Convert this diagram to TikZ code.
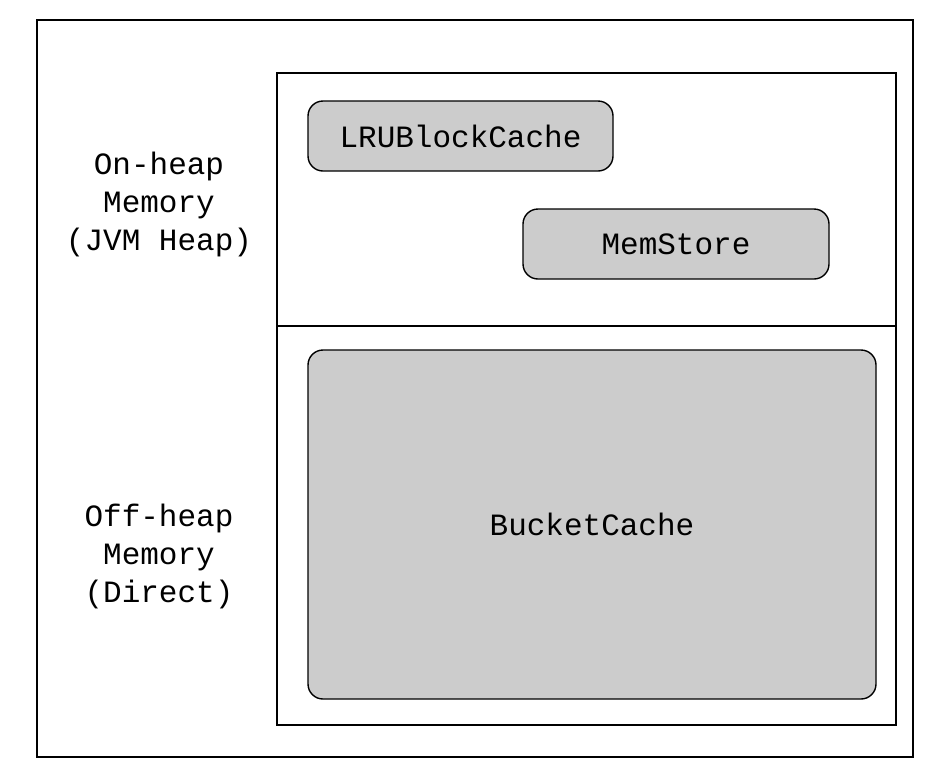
\documentclass[tikz,border=0pt]{standalone}
\usepackage{fontspec}
\setmonofont{Liberation Mono}
\usepackage{tikz}

\begin{document}
\begin{tikzpicture}[
                    x=1pt,
                    y=-1pt,
                    line width=1.4pt,
                    font=\ttfamily\fontsize{31}{38}\selectfont,
                    frame/.style={draw, rectangle, inner sep=0pt},
                    cachebox/.style={draw, rectangle, rounded corners=15pt, fill=black!20, inner sep=0pt},
                    memlabel/.style={align=center}
                ]
                \useasboundingbox (0,0) rectangle (936,780);
                \node (Outer)   [frame, minimum width=876pt, minimum height=737pt] at (475,388.5) {};
                \node (Heap)    [frame, minimum width=619pt, minimum height=253pt] at (586.5,199.5) {};
                \node (Direct)  [frame, minimum width=619pt, minimum height=399pt] at (586.5,525.5) {};
                \node (LRU)     [cachebox, minimum width=305pt, minimum height=70pt]  at (460.5,136)   {LRUBlockCache};
                \node (Mem)     [cachebox, minimum width=306pt, minimum height=70pt]  at (676,244)     {MemStore};
                \node (Bucket)  [cachebox, minimum width=568pt, minimum height=349pt] at (592,524.5)   {BucketCache};
                \node (OnLbl)   [memlabel] at (159,204) {On-heap\\Memory\\(JVM Heap)};
                \node (OffLbl)  [memlabel] at (159,556) {Off-heap\\Memory\\(Direct)};
            \end{tikzpicture}
\end{document}
